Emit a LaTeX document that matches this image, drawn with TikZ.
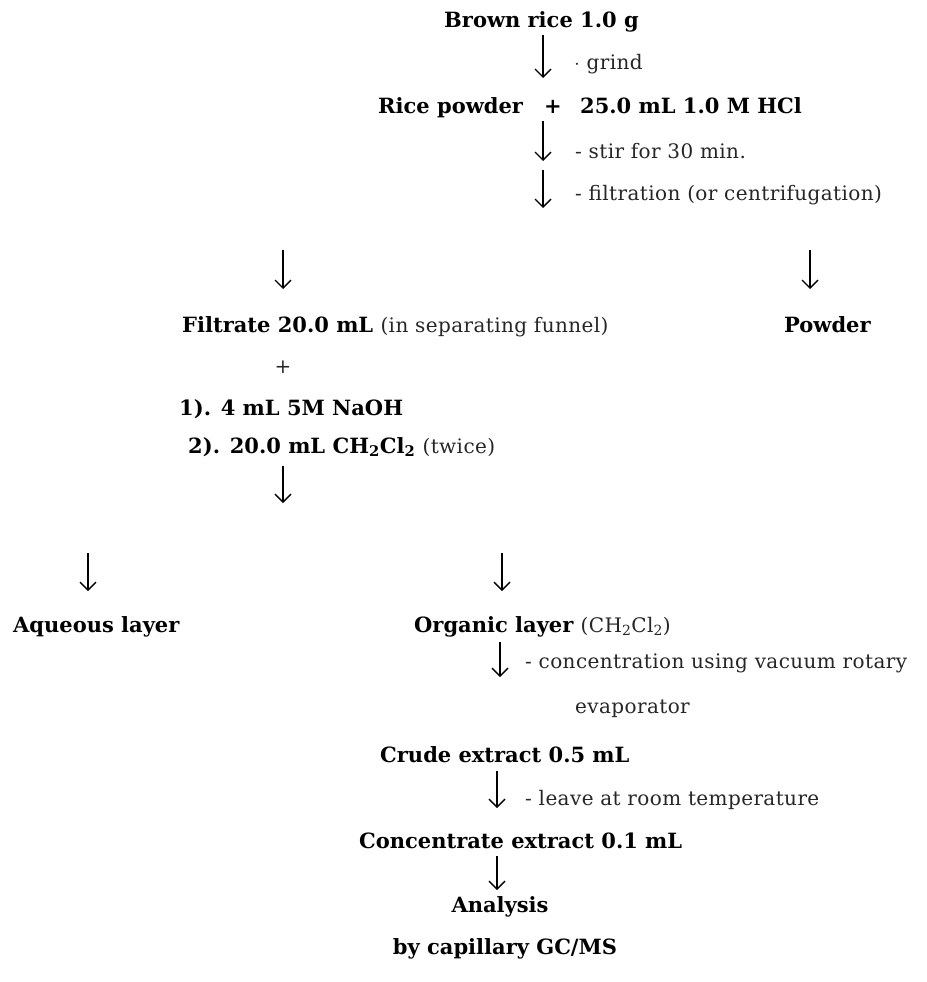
\documentclass[tikz,border=0pt]{standalone}
\usepackage{fontspec}
\setmainfont{DejaVu Serif}
\newfontfamily\regfont{DejaVu Serif}[LetterSpace=2]
\usetikzlibrary{arrows.meta}
\newcommand{\rg}{\regfont\mdseries\fontsize{20}{24}\selectfont\color{black!85}}
\begin{document}
\begin{tikzpicture}[x=1pt,y=-1pt,
  bt/.style={font=\bfseries\fontsize{21}{25}\selectfont, anchor=base west, inner sep=0pt},
  nt/.style={font=\rg, text=black!85, anchor=base west, inner sep=0pt},
  arr/.style={draw, line width=1.2pt, -{Straight Barb[length=8pt,width=16pt,line width=1.4pt]}}]
\useasboundingbox (0,0) rectangle (926,982);
\fill[white] (0,0) rectangle (926,982);
% top
\node[bt] (brown) at (444,28) {Brown rice 1.0 g};
\coordinate (a1s) at (543,35); \coordinate (a1e) at (543,78);
\draw[arr] (a1s) -- (a1e);
\node[nt] (grind) at (574,70) {$\cdot$ grind};
\node[bt] (rice) at (378,113) {Rice powder};
\node[bt, anchor=base] (rplus) at (553,113) {+};
\node[bt] (hcl) at (580,113) {25.0 mL 1.0 M HCl};
\coordinate (a2s) at (543,121); \coordinate (a2e) at (543,161);
\draw[arr] (a2s) -- (a2e);
\node[nt] (stir) at (575,158) {- stir for 30 min.};
\coordinate (a3s) at (543,170); \coordinate (a3e) at (543,208);
\draw[arr] (a3s) -- (a3e);
\node[nt] (filt) at (575,200) {- filtration (or centrifugation)};
% split 1
\coordinate (a4s) at (283,250); \coordinate (a4e) at (283,289);
\draw[arr] (a4s) -- (a4e);
\coordinate (a5s) at (810,250); \coordinate (a5e) at (810,289);
\draw[arr] (a5s) -- (a5e);
\node[bt] (filtrate) at (182,332) {Filtrate 20.0 mL {\rg(in separating funnel)}};
\node[bt] (powder) at (784,332) {Powder};
\node[nt, anchor=center] (plus) at (283,367) {+};
\node[bt] (naoh) at (179,415) {1). 4 mL 5M NaOH};
\node[bt] (ch2) at (188,453) {2). 20.0 mL CH\textsubscript{2}Cl\textsubscript{2} {\rg(twice)}};
\coordinate (a6s) at (283,466); \coordinate (a6e) at (283,503);
\draw[arr] (a6s) -- (a6e);
% split 2
\coordinate (a7s) at (88,553); \coordinate (a7e) at (88,591);
\draw[arr] (a7s) -- (a7e);
\coordinate (a8s) at (502,553); \coordinate (a8e) at (502,591);
\draw[arr] (a8s) -- (a8e);
\node[bt] (aq) at (13,632) {Aqueous layer};
\node[bt] (org) at (414,632) {Organic layer {\rg(CH\textsubscript{2}Cl\textsubscript{2})}};
\coordinate (a9s) at (500,642); \coordinate (a9e) at (500,677);
\draw[arr] (a9s) -- (a9e);
\node[nt] (conc) at (525,668) {- concentration using vacuum rotary};
\node[nt] (evap) at (575,713) {evaporator};
\node[bt] (crude) at (380,762) {Crude extract 0.5 mL};
\coordinate (a10s) at (497,771); \coordinate (a10e) at (497,808);
\draw[arr] (a10s) -- (a10e);
\node[nt] (leave) at (525,805) {- leave at room temperature};
\node[bt] (concx) at (359,848) {Concentrate extract 0.1 mL};
\coordinate (a11s) at (497,856); \coordinate (a11e) at (497,890);
\draw[arr] (a11s) -- (a11e);
\node[bt, anchor=base] (anal) at (500,912) {Analysis};
\node[bt, anchor=base] (gcms) at (505,954) {by capillary GC/MS};
\end{tikzpicture}
\end{document}
